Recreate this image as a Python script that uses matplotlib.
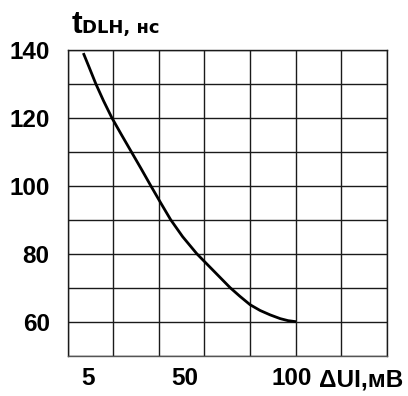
import numpy as np
import matplotlib
matplotlib.use("Agg")
import matplotlib.pyplot as plt

plt.rcParams['font.family'] = ['Liberation Sans', 'DejaVu Sans']
plt.rcParams['font.weight'] = 'bold'

# curve: dU (mV) -> tDLH (ns)
du_mv = [2.8, 5.4, 8.6, 12.2, 16.1, 20.6, 25.2, 29.8, 34.3, 38.9, 43.6, 49.2,
         55.8, 63.6, 71.4, 75.9, 80.7, 85.4, 90.1, 94.8, 98.5, 102.2]
t_dlh = [139, 135, 130, 125, 120, 115, 110, 105, 100, 95, 90, 85,
         80, 75, 70, 67.5, 65, 63.3, 62, 60.9, 60.3, 60]

x_ticks = [5, 50, 100]
x_ticklabels = ["5", "50", "100"]
y_ticks = [60, 80, 100, 120, 140]

# grid: 7 columns, each about 21.3 mV wide, starting at -4.5 mV
x_start, col_w, n_cols = -4.5, 21.3, 7

fig = plt.figure(figsize=(4.08, 3.96), dpi=100)
ax = fig.add_axes([0.166, 0.1018, 0.782, 0.7727])

ax.plot(du_mv, t_dlh, color="black", lw=2.0, solid_joinstyle="round",
        solid_capstyle="butt")

ax.set_xlim(x_start, x_start + n_cols * col_w)
ax.set_ylim(50, 140)

ax.set_xticks(x_start + col_w * np.arange(n_cols + 1), minor=True)
ax.set_yticks(np.arange(50, 141, 10), minor=True)
ax.set_xticks(x_ticks)
ax.set_xticklabels(x_ticklabels)
ax.set_yticks(y_ticks)
ax.xaxis.grid(True, which="minor", color="#1a1a1a", lw=1.0)
ax.yaxis.grid(True, which="both", color="#1a1a1a", lw=1.0)
ax.tick_params(which="both", length=0)
ax.tick_params(axis="y", pad=13, labelsize=17.5)
ax.tick_params(axis="x", pad=8, labelsize=17.5)
for s in ax.spines.values():
    s.set_linewidth(1.0)
    s.set_color("#1a1a1a")
ax.spines["bottom"].set_color("#555555")

fig.text(0.782, 0.025, "\u0394UI,\u043c\u0412", fontsize=17.5, fontweight="bold",
         ha="left", va="baseline")

fig.text(0.1757, 0.9167, "t", fontsize=23, fontweight="bold", va="baseline")
fig.text(0.2002, 0.9167, "DLH, \u043d\u0441", fontsize=13, fontweight="bold",
         family="DejaVu Sans", va="baseline")

fig.savefig("out.png", dpi=100)
